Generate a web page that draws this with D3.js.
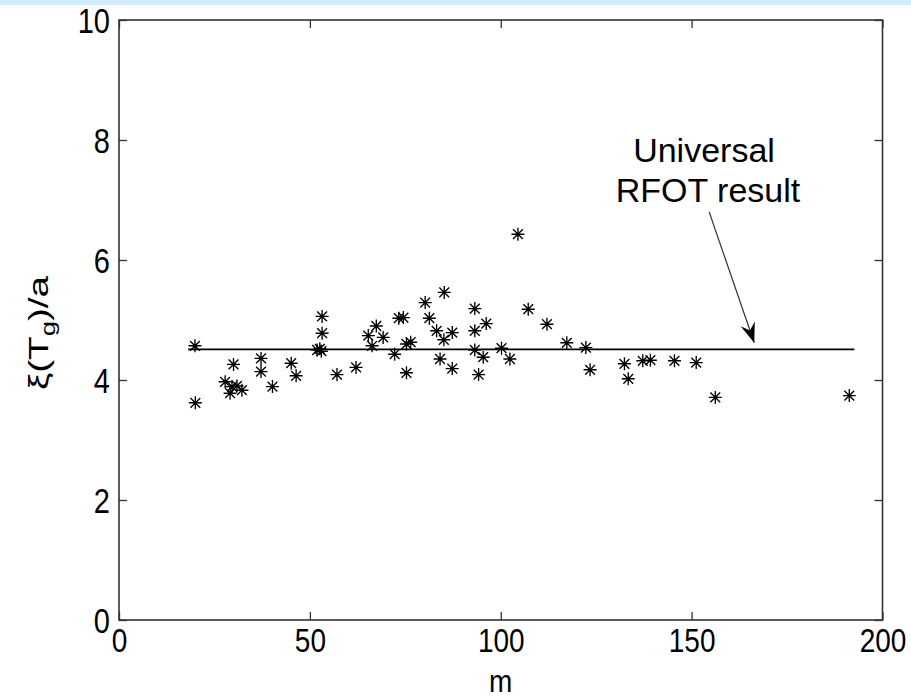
<!DOCTYPE html>
<html>
<head>
<meta charset="utf-8">
<script src="https://cdn.jsdelivr.net/npm/d3@7"></script>
<style>
  html, body { margin: 0; padding: 0; background: #fff; }
  svg { display: block; }
  text { font-family: "Liberation Sans", Arial, Helvetica, sans-serif; fill: #000; }
</style>
</head>
<body>
<svg id="chart" width="911" height="698"></svg>
<script>
// ---- data ----
const mValues = [19.9, 20.0, 27.8, 29.1, 29.6, 30.0, 30.9, 32.2, 37.2, 37.2,
  40.2, 45.1, 46.4, 51.9, 52.6, 53.0, 53.2, 53.2, 57.1, 62.1,
  65.3, 66.3, 67.4, 69.2, 72.2, 73.3, 74.5, 75.3, 76.4, 75.3,
  80.2, 81.3, 83.2, 84.1, 85.1, 85.2, 87.3, 87.3, 93.2, 93.2,
  93.2, 94.2, 95.4, 96.2, 100.2, 102.4, 104.5, 107.2, 112.1, 117.3,
  122.3, 123.4, 132.4, 133.4, 137.2, 139.2, 145.5, 151.2, 156.2, 191.3];
const xiValues = [4.57, 3.62, 3.97, 3.78, 3.89, 4.26, 3.90, 3.83, 4.36, 4.14,
  3.89, 4.28, 4.07, 4.50, 4.52, 4.48, 5.06, 4.78, 4.09, 4.21,
  4.74, 4.57, 4.90, 4.71, 4.43, 5.03, 5.04, 4.60, 4.63, 4.12,
  5.29, 5.03, 4.82, 4.35, 4.67, 5.46, 4.79, 4.19, 5.19, 4.82,
  4.50, 4.09, 4.38, 4.94, 4.53, 4.35, 6.43, 5.18, 4.93, 4.62,
  4.54, 4.17, 4.27, 4.02, 4.32, 4.33, 4.32, 4.29, 3.71, 3.74];
const rfotLineM = [18.1, 192.6];
const rfotValue = 4.51;
const xTicks = [0, 50, 100, 150, 200];
const yTicks = [0, 2, 4, 6, 8, 10];
const annotationLines = ["Universal", "RFOT result"];
const arrowFrom = [154.6, 6.80];
const arrowTo = [166.4, 4.62];

// ---- layout ----
const svg = d3.select("#chart");
const L = 119, R = 882.5, T = 20, B = 620;
const x = d3.scaleLinear().domain([0, 200]).range([L, R]);
const y = d3.scaleLinear().domain([0, 10]).range([B, T]);

// top light-blue band
svg.append("rect").attr("x", 0).attr("y", 0).attr("width", 911).attr("height", 5).attr("fill", "#d2eefc");

const tickLen = 8;
const gB = svg.append("g").attr("transform", `translate(0,${B})`)
  .call(d3.axisBottom(x).tickValues(xTicks).tickSizeInner(-tickLen).tickSizeOuter(0).tickPadding(10));
const gT = svg.append("g").attr("transform", `translate(0,${T})`)
  .call(d3.axisTop(x).tickValues(xTicks).tickSizeInner(-tickLen).tickSizeOuter(0).tickFormat(""));
const gL = svg.append("g").attr("transform", `translate(${L},0)`)
  .call(d3.axisLeft(y).tickValues(yTicks).tickSizeInner(-tickLen).tickSizeOuter(0).tickPadding(9));
const gR = svg.append("g").attr("transform", `translate(${R},0)`)
  .call(d3.axisRight(y).tickValues(yTicks).tickSizeInner(-tickLen).tickSizeOuter(0).tickFormat(""));

[gB, gT, gL, gR].forEach(g => {
  g.select(".domain").remove();
  g.selectAll(".tick line").attr("stroke", "#333").attr("stroke-width", 1.3);
});
gB.selectAll(".tick text").attr("font-size", 28).attr("dy", "0.71em")
  .attr("y", 0).attr("transform", "translate(0,8) scale(1,1.2)");
gL.selectAll(".tick text").attr("font-size", 29).attr("dy", "0.36em")
  .attr("x", 0).attr("transform", "translate(-9,0) scale(1,1.2)");

// frame
svg.append("rect").attr("x", L).attr("y", T).attr("width", R - L).attr("height", B - T)
  .attr("fill", "none").attr("stroke", "#333").attr("stroke-width", 1.6);

// axis labels
svg.append("text").attr("text-anchor", "middle")
  .attr("transform", `translate(${(L + R) / 2},692) scale(1,1.1)`)
  .attr("font-size", 28).text("m");

const yl = svg.append("text").attr("transform", "translate(48,333) rotate(-90) scale(1.38,1)")
  .attr("text-anchor", "middle").attr("font-size", 28);
yl.append("tspan").text("ξ(T");
yl.append("tspan").attr("font-size", 20).attr("dy", 7).text("g");
yl.append("tspan").attr("dy", -7).text(")/a");

// RFOT line
svg.append("line")
  .attr("x1", x(rfotLineM[0])).attr("x2", x(rfotLineM[1]))
  .attr("y1", y(rfotValue)).attr("y2", y(rfotValue))
  .attr("stroke", "#000").attr("stroke-width", 1.6);

// asterisk markers
const r = 6.5, rd = 4.9;
const starPath = `M${-r},0L${r},0M0,${-r}L0,${r}M${-rd},${-rd}L${rd},${rd}M${-rd},${rd}L${rd},${-rd}`;
svg.append("g").selectAll("path").data(mValues.map((m, i) => [m, xiValues[i]]))
  .join("path")
  .attr("transform", d => `translate(${x(d[0])},${y(d[1])})`)
  .attr("d", starPath)
  .attr("stroke", "#000").attr("stroke-width", 1.35).attr("fill", "none");

// annotation
const ann = svg.append("text").attr("text-anchor", "middle").attr("font-size", 34);
ann.append("tspan").attr("x", 704).attr("y", 162).text(annotationLines[0]);
ann.append("tspan").attr("x", 708).attr("y", 202).text(annotationLines[1]);

// arrow
const x0 = x(arrowFrom[0]), y0 = y(arrowFrom[1]), x1 = x(arrowTo[0]), y1 = y(arrowTo[1]);
svg.append("line").attr("x1", x0).attr("y1", y0).attr("x2", x1).attr("y2", y1)
  .attr("stroke", "#333").attr("stroke-width", 1.2);
const ang = Math.atan2(y1 - y0, x1 - x0);
const hl = 20, hw = 7.5, notch = 13;
const ux = Math.cos(ang), uy = Math.sin(ang), px = -uy, py = ux;
const head = [
  [x1, y1],
  [x1 - hl * ux + hw * px, y1 - hl * uy + hw * py],
  [x1 - notch * ux, y1 - notch * uy],
  [x1 - hl * ux - hw * px, y1 - hl * uy - hw * py]
];
svg.append("path").attr("d", "M" + head.map(p => p.join(",")).join("L") + "Z").attr("fill", "#000");
</script>
</body>
</html>
